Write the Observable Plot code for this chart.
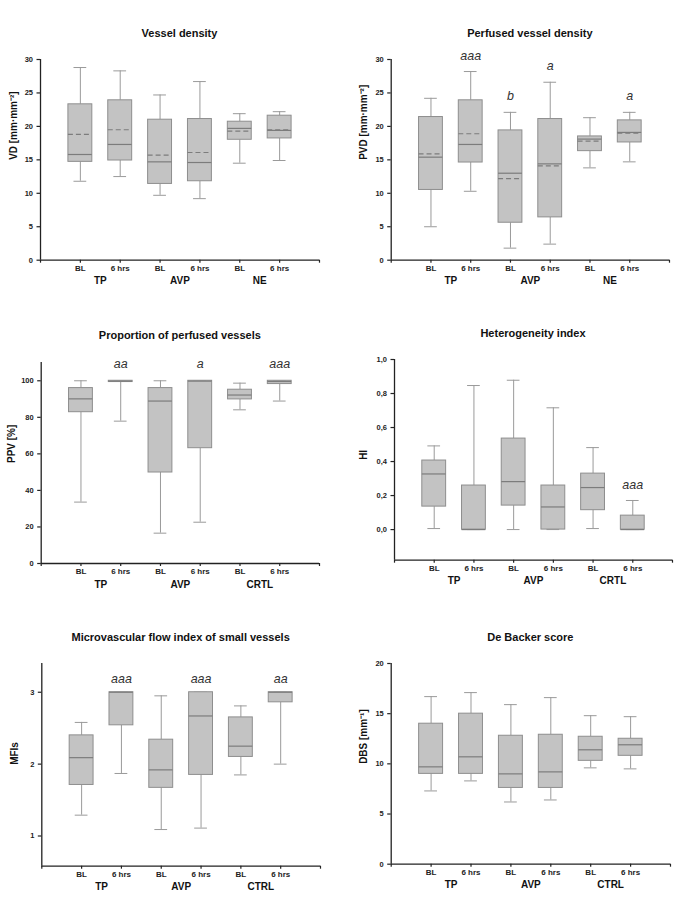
<!DOCTYPE html>
<html>
<head>
<meta charset="utf-8">
<script src="https://cdn.jsdelivr.net/npm/d3@7"></script>
<script src="https://cdn.jsdelivr.net/npm/@observablehq/plot@0.6"></script>
<style>
  body { margin: 0; background: #fff; }
  #root { position: relative; width: 685px; height: 913px; background: #fff; font-family: "Liberation Sans", Arial, sans-serif; }
  .ttl { position: absolute; text-align: center; font-size: 11px; font-weight: bold; color: #111; line-height: 14px; white-space: nowrap; }
  .pn { position: absolute; }
</style>
</head>
<body>
<div id="root"></div>
<script>
// ---- categories ----
const timepoints = ["BL", "6 hrs", "BL", "6 hrs", "BL", "6 hrs"];
const groupsNE = ["TP", "AVP", "NE"];
const groupsCRTL = ["TP", "AVP", "CRTL"];
const groupsCTRL = ["TP", "AVP", "CTRL"];

// ---- Vessel density ----
const vdMin  = [11.8, 12.5, 9.7, 9.2, 14.5, 14.9];
const vdQ1   = [14.7, 14.9, 11.4, 11.8, 18.0, 18.2];
const vdMed  = [15.8, 17.3, 14.7, 14.6, 19.7, 19.4];
const vdQ3   = [23.3, 23.9, 21.0, 21.1, 20.7, 21.6];
const vdMax  = [28.8, 28.3, 24.7, 26.7, 21.9, 22.2];
const vdMean = [18.8, 19.5, 15.7, 16.1, 19.3, 19.5];
const vdTicks = [0, 5, 10, 15, 20, 25, 30];

// ---- Perfused vessel density ----
const pvdMin  = [5.0, 10.3, 1.8, 2.4, 13.8, 14.7];
const pvdQ1   = [10.5, 14.6, 5.6, 6.4, 16.3, 17.6];
const pvdMed  = [15.4, 17.3, 13.0, 14.4, 18.1, 19.1];
const pvdQ3   = [21.4, 23.9, 19.4, 21.1, 18.5, 20.9];
const pvdMax  = [24.2, 28.2, 22.1, 26.6, 21.3, 22.1];
const pvdMean = [15.9, 18.9, 12.2, 14.1, 17.8, 19.0];
const pvdAnn  = ["", "aaa", "b", "a", "", "a"];

// ---- Proportion of perfused vessels ----
const ppvMin = [33.6, 77.9, 16.6, 22.6, 84.1, 88.9];
const ppvQ1  = [82.8, 99.3, 49.8, 63.1, 89.8, 98.2];
const ppvMed = [90.1, 99.8, 88.9, 99.8, 92.2, 99.6];
const ppvQ3  = [96.0, 100, 96.0, 100, 95.1, 100];
const ppvMax = [100, 100, 100, 100, 98.7, 100];
const ppvAnn = ["", "aa", "", "a", "", "aaa"];
const ppvTicks = [0, 20, 40, 60, 80, 100];

// ---- Heterogeneity index ----
const hiMin = [0.006, 0, 0, 0, 0.006, 0];
const hiQ1  = [0.135, 0, 0.141, 0, 0.114, 0];
const hiMed = [0.327, 0, 0.282, 0.133, 0.247, 0];
const hiQ3  = [0.406, 0.259, 0.535, 0.259, 0.329, 0.082];
const hiMax = [0.492, 0.847, 0.878, 0.716, 0.482, 0.171];
const hiAnn = ["", "", "", "", "", "aaa"];
const hiTicks = [0, 0.2, 0.4, 0.6, 0.8, 1.0];

// ---- Microvascular flow index of small vessels ----
const mfiMin = [1.29, 1.87, 1.09, 1.11, 1.85, 2.0];
const mfiQ1  = [1.71, 2.54, 1.67, 1.85, 2.10, 2.86];
const mfiMed = [2.09, 3.0, 1.92, 2.67, 2.25, 3.0];
const mfiQ3  = [2.40, 3.0, 2.34, 3.0, 2.65, 3.0];
const mfiMax = [2.58, 3.0, 2.95, 3.0, 2.81, 3.0];
const mfiAnn = ["", "aaa", "", "aaa", "", "aa"];
const mfiTicks = [1, 2, 3];

// ---- De Backer score ----
const dbsMin = [7.3, 8.3, 6.2, 6.4, 9.6, 9.5];
const dbsQ1  = [9.0, 9.0, 7.6, 7.6, 10.3, 10.8];
const dbsMed = [9.7, 10.7, 9.0, 9.2, 11.4, 11.9];
const dbsQ3  = [14.0, 15.0, 12.8, 12.9, 12.7, 12.5];
const dbsMax = [16.7, 17.1, 15.9, 16.6, 14.8, 14.7];
const dbsTicks = [0, 5, 10, 15, 20];

const FONT = '"Liberation Sans", Arial, sans-serif';
const root = document.getElementById("root");

function rowsOf(mn, q1, med, q3, mx, mean, ann) {
  return d3.range(6).map(i => ({
    i: i + 1, min: mn[i], q1: q1[i], med: med[i], q3: q3[i], max: mx[i],
    mean: mean ? mean[i] : null, ann: ann ? ann[i] : ""
  }));
}

function panel(cfg) {
  const {L, W, x0, x1, yTop, yBot, domain, ticks, fmt, ylabel, title, titleY, groups, rows, annDy, labelDx} = cfg;
  const mt = 30, mb = 36;
  const H = (yBot - yTop) + mt + mb;
  const HW = 0.3, CW = 0.16;
  const marks = [
    // whiskers
    Plot.ruleX(rows, {x: "i", y1: "q3", y2: "max", stroke: "#9a9a9a", strokeWidth: 1}),
    Plot.ruleX(rows, {x: "i", y1: "q1", y2: "min", stroke: "#9a9a9a", strokeWidth: 1}),
    Plot.ruleY(rows, {y: "max", x1: d => d.i - CW, x2: d => d.i + CW, stroke: "#9a9a9a", strokeWidth: 1}),
    Plot.ruleY(rows, {y: "min", x1: d => d.i - CW, x2: d => d.i + CW, stroke: "#9a9a9a", strokeWidth: 1}),
    // boxes
    Plot.rect(rows, {x1: d => d.i - HW, x2: d => d.i + HW, y1: "q1", y2: "q3", fill: "#c3c3c3", stroke: "#8e8e8e", strokeWidth: 1}),
    // median
    Plot.ruleY(rows, {y: "med", x1: d => d.i - HW, x2: d => d.i + HW, stroke: "#7c7c7c", strokeWidth: 1.2}),
  ];
  if (rows[0].mean != null) {
    marks.push(Plot.ruleY(rows, {y: "mean", x1: d => d.i - HW, x2: d => d.i + HW, stroke: "#7c7c7c", strokeWidth: 1.2, strokeDasharray: "5,3"}));
  }
  marks.push(
    Plot.text(rows.filter(d => d.ann), {x: "i", y: "max", text: "ann", dy: annDy, fontStyle: "italic", fontWeight: "normal", fontSize: 12.5, fill: "#333"}),
    // axes lines
    Plot.ruleY([domain[0]], {stroke: "#222", strokeWidth: 1.3}),
    Plot.ruleX([0], {stroke: "#222", strokeWidth: 1.3}),
    Plot.axisY({ticks, tickSize: 3.5, tickPadding: 4, tickFormat: fmt, fontSize: 7.5, fontWeight: "bold", stroke: "#222", strokeWidth: 1.2}),
    Plot.axisX({ticks: d3.range(0, 8), tickSize: 3, tickFormat: () => "", stroke: "#222", strokeWidth: 1.2}),
    Plot.text(timepoints, {x: (d, i) => i + 1, text: d => d, frameAnchor: "bottom", dy: 10.5, fontSize: 8, fontWeight: "bold", fill: "#222"}),
    Plot.text(groups, {x: (d, i) => 2 * i + 1.5, text: d => d, frameAnchor: "bottom", dy: 24, fontSize: 10, fontWeight: "bold", fill: "#111"}),
    Plot.text([ylabel], {text: d => d, frameAnchor: "left", dx: labelDx, rotate: -90, fontSize: 10, fontWeight: "bold", fill: "#111"})
  );
  const svg = Plot.plot({
    width: W, height: H,
    marginLeft: x0 - L, marginRight: L + W - x1, marginTop: mt, marginBottom: mb,
    x: {type: "linear", domain: [0, 7], label: null},
    y: {type: "linear", domain, label: null},
    style: {fontFamily: FONT, background: "transparent", color: "#222", overflow: "visible"},
    marks
  });
  const wrap = document.createElement("div");
  wrap.className = "pn";
  wrap.style.left = L + "px";
  wrap.style.top = (yTop - mt) + "px";
  wrap.appendChild(svg);
  root.appendChild(wrap);
  const t = document.createElement("div");
  t.className = "ttl";
  t.style.left = x0 + "px";
  t.style.width = (x1 - x0) + "px";
  t.style.top = (titleY - 7) + "px";
  t.textContent = title;
  root.appendChild(t);
}

const f1 = d3.format("d");
const fComma = d => d3.format(".1f")(d).replace(".", ",");

panel({L: 0, W: 340, x0: 40, x1: 319, yTop: 59.3, yBot: 260, domain: [0, 30], ticks: vdTicks, fmt: f1,
  ylabel: "VD [mm·mm⁻²]", title: "Vessel density", titleY: 33, groups: groupsNE,
  rows: rowsOf(vdMin, vdQ1, vdMed, vdQ3, vdMax, vdMean, null), annDy: -16, labelDx: -27});

panel({L: 340, W: 345, x0: 390.7, x1: 669, yTop: 59.3, yBot: 260, domain: [0, 30], ticks: vdTicks, fmt: f1,
  ylabel: "PVD [mm·mm⁻²]", title: "Perfused vessel density", titleY: 33, groups: groupsNE,
  rows: rowsOf(pvdMin, pvdQ1, pvdMed, pvdQ3, pvdMax, pvdMean, pvdAnn), annDy: -16, labelDx: -27});

panel({L: 0, W: 340, x0: 40.7, x1: 319, yTop: 361.7, yBot: 562.7, domain: [0, 110], ticks: ppvTicks, fmt: f1,
  ylabel: "PPV [%]", title: "Proportion of perfused vessels", titleY: 335, groups: groupsCRTL,
  rows: rowsOf(ppvMin, ppvQ1, ppvMed, ppvQ3, ppvMax, null, ppvAnn), annDy: -17, labelDx: -29});

panel({L: 340, W: 345, x0: 394, x1: 672, yTop: 359.3, yBot: 560, domain: [-0.18, 1.0], ticks: hiTicks, fmt: fComma,
  ylabel: "HI", title: "Heterogeneity index", titleY: 333.3, groups: groupsCRTL,
  rows: rowsOf(hiMin, hiQ1, hiMed, hiQ3, hiMax, null, hiAnn), annDy: -15, labelDx: -31});

panel({L: 0, W: 340, x0: 41.3, x1: 320, yTop: 663.3, yBot: 866, domain: [0.58, 3.4], ticks: mfiTicks, fmt: f1,
  ylabel: "MFIs", title: "Microvascular flow index of small vessels", titleY: 637.3, groups: groupsCTRL,
  rows: rowsOf(mfiMin, mfiQ1, mfiMed, mfiQ3, mfiMax, null, mfiAnn), annDy: -13, labelDx: -27});

panel({L: 340, W: 345, x0: 390.7, x1: 670, yTop: 663.3, yBot: 864, domain: [0, 20], ticks: dbsTicks, fmt: f1,
  ylabel: "DBS [mm⁻¹]", title: "De Backer score", titleY: 637.3, groups: groupsCTRL,
  rows: rowsOf(dbsMin, dbsQ1, dbsMed, dbsQ3, dbsMax, null, null), annDy: -15, labelDx: -27});
</script>
</body>
</html>
